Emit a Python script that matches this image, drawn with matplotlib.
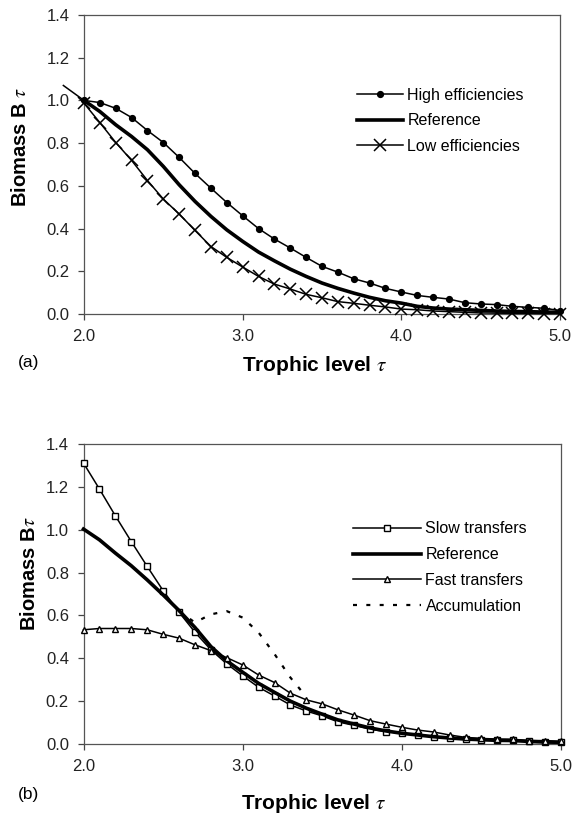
import matplotlib
matplotlib.use("Agg")
import matplotlib.pyplot as plt

plt.rcParams['font.family'] = ['Liberation Sans', 'DejaVu Sans']
plt.rcParams['mathtext.fontset'] = 'stix'

tau = [2.0, 2.1, 2.2, 2.3, 2.4, 2.5, 2.6, 2.7, 2.8, 2.9, 3.0, 3.1, 3.2, 3.3, 3.4, 3.5,
       3.6, 3.7, 3.8, 3.9, 4.0, 4.1, 4.2, 4.3, 4.4, 4.5, 4.6, 4.7, 4.8, 4.9, 5.0]

# Panel (a)
high_x = [1.87] + tau
high_eff = [1.07, 1.00, 0.99, 0.963, 0.92, 0.859, 0.803, 0.733, 0.658, 0.589, 0.522, 0.46,
            0.40, 0.351, 0.309, 0.265, 0.223, 0.196, 0.165, 0.145, 0.12, 0.103,
            0.087, 0.078, 0.070, 0.053, 0.047, 0.044, 0.036, 0.031, 0.027, 0.016]
ref_a = [1.00, 0.948, 0.886, 0.831, 0.769, 0.691, 0.605, 0.527, 0.457, 0.394, 0.34,
         0.29, 0.249, 0.21, 0.176, 0.145, 0.12, 0.098, 0.078, 0.062, 0.051,
         0.036, 0.028, 0.023, 0.02, 0.017, 0.014, 0.012, 0.011, 0.009, 0.008]
low_eff = [0.987, 0.896, 0.803, 0.719, 0.625, 0.538, 0.468, 0.391, 0.316, 0.265, 0.22,
           0.176, 0.14, 0.117, 0.092, 0.076, 0.058, 0.05, 0.041, 0.033, 0.023,
           0.02, 0.014, 0.011, 0.008, 0.005, 0.004, 0.003, 0.003, 0.002, 0.002]

# Panel (b)
slow = [1.311, 1.19, 1.065, 0.945, 0.829, 0.716, 0.615, 0.522, 0.44, 0.374, 0.318,
        0.265, 0.224, 0.182, 0.154, 0.131, 0.103, 0.087, 0.069, 0.058, 0.05,
        0.042, 0.034, 0.026, 0.023, 0.019, 0.019, 0.017, 0.012, 0.009, 0.008]
ref_b = [1.003, 0.953, 0.891, 0.832, 0.766, 0.696, 0.623, 0.544, 0.455, 0.388, 0.335,
         0.283, 0.241, 0.2, 0.167, 0.139, 0.112, 0.093, 0.075, 0.061, 0.05,
         0.042, 0.034, 0.028, 0.023, 0.02, 0.017, 0.016, 0.012, 0.009, 0.008]
fast = [0.533, 0.539, 0.539, 0.539, 0.533, 0.512, 0.494, 0.463, 0.436, 0.403, 0.369,
        0.322, 0.287, 0.237, 0.206, 0.187, 0.159, 0.135, 0.109, 0.093, 0.078,
        0.065, 0.056, 0.042, 0.031, 0.026, 0.023, 0.022, 0.016, 0.016, 0.012]
accum_x = [2.6, 2.7, 2.8, 2.9, 3.0, 3.1, 3.2, 3.3, 3.4]
accum = [0.62, 0.567, 0.605, 0.62, 0.59, 0.52, 0.42, 0.31, 0.22]

yticks = [0.0, 0.2, 0.4, 0.6, 0.8, 1.0, 1.2, 1.4]
xticks = [2.0, 3.0, 4.0, 5.0]

W, H = 580, 815
fig = plt.figure(figsize=(W / 100, H / 100), dpi=100)

def px_axes(l, r, t, b):
    return fig.add_axes([l / W, 1 - b / H, (r - l) / W, (b - t) / H])

ax1 = px_axes(84, 560, 15, 314)
ax2 = px_axes(83.5, 561, 444, 744)

thin = 1.1
for ax in (ax1, ax2):
    ax.set_xlim(2.0, 5.0)
    ax.set_ylim(0.0, 1.4)
    ax.set_xticks(xticks)
    ax.set_xticklabels([f"{v:.1f}" for v in xticks])
    ax.set_yticks(yticks)
    ax.set_yticklabels([f"{v:.1f}" for v in yticks])
    ax.tick_params(direction='out', length=4, width=0.9, pad=6.5, labelsize=12,
                   color='#444444', labelcolor='#222222')
    for s in ax.spines.values():
        s.set_color('#555555')
        s.set_linewidth(0.9)

# Panel (a)
ax1.plot(high_x, high_eff, '-', color='black', lw=thin, marker='o', ms=4.2,
         markevery=list(range(1, len(high_x))), clip_on=False, label='High efficiencies', zorder=3)
ax1.plot(tau, ref_a, '-', color='black', lw=2.6, clip_on=False, label='Reference', zorder=3)
ax1.plot(tau, low_eff, '-', color='black', lw=thin, marker='x', ms=8, mew=1.1,
         clip_on=False, label='Low efficiencies', zorder=3)

# Panel (b)
ax2.plot(tau, slow, '-', color='black', lw=thin, marker='s', ms=4.5, mfc='white', mew=1.0,
         clip_on=False, label='Slow transfers', zorder=3)
ax2.plot(tau, ref_b, '-', color='black', lw=2.6, clip_on=False, label='Reference', zorder=3)
ax2.plot(tau, fast, '-', color='black', lw=thin, marker='^', ms=4.5, mfc='white', mew=1.0,
         clip_on=False, label='Fast transfers', zorder=3)
ax2.plot(accum_x, accum, color='black', lw=1.6, linestyle=(0, (1.8, 4.2)),
         clip_on=False, label='Accumulation', zorder=3)

leg_kw = dict(frameon=False, fontsize=11.5, borderpad=0, borderaxespad=0,
              handletextpad=0.25, labelspacing=0.67, loc='upper left')
ax1.legend(handlelength=2.9, bbox_to_anchor=(0.5735, 0.757), **leg_kw)
ax2.legend(handlelength=4.3, bbox_to_anchor=(0.564, 0.742), **leg_kw)

# Axis labels
ax1.set_xlabel(r"Trophic level $\tau$", fontsize=15, fontweight='bold')
ax1.xaxis.set_label_coords(0.484, -0.135)
ax1.set_ylabel(r"Biomass B $\tau$", fontsize=14.5, fontweight='bold')
ax1.yaxis.set_label_coords(-0.113, 0.56)

ax2.set_xlabel(r"Trophic level $\tau$", fontsize=15, fontweight='bold')
ax2.xaxis.set_label_coords(0.482, -0.16)
ax2.set_ylabel(r"Biomass B$\tau$", fontsize=14.5, fontweight='bold')
ax2.yaxis.set_label_coords(-0.093, 0.567)

fig.text(18 / W, 1 - 363 / H, "(a)", fontsize=12.5, va='center', ha='left')
fig.text(18 / W, 1 - 795 / H, "(b)", fontsize=12.5, va='center', ha='left')

fig.savefig("out.png", dpi=100)
